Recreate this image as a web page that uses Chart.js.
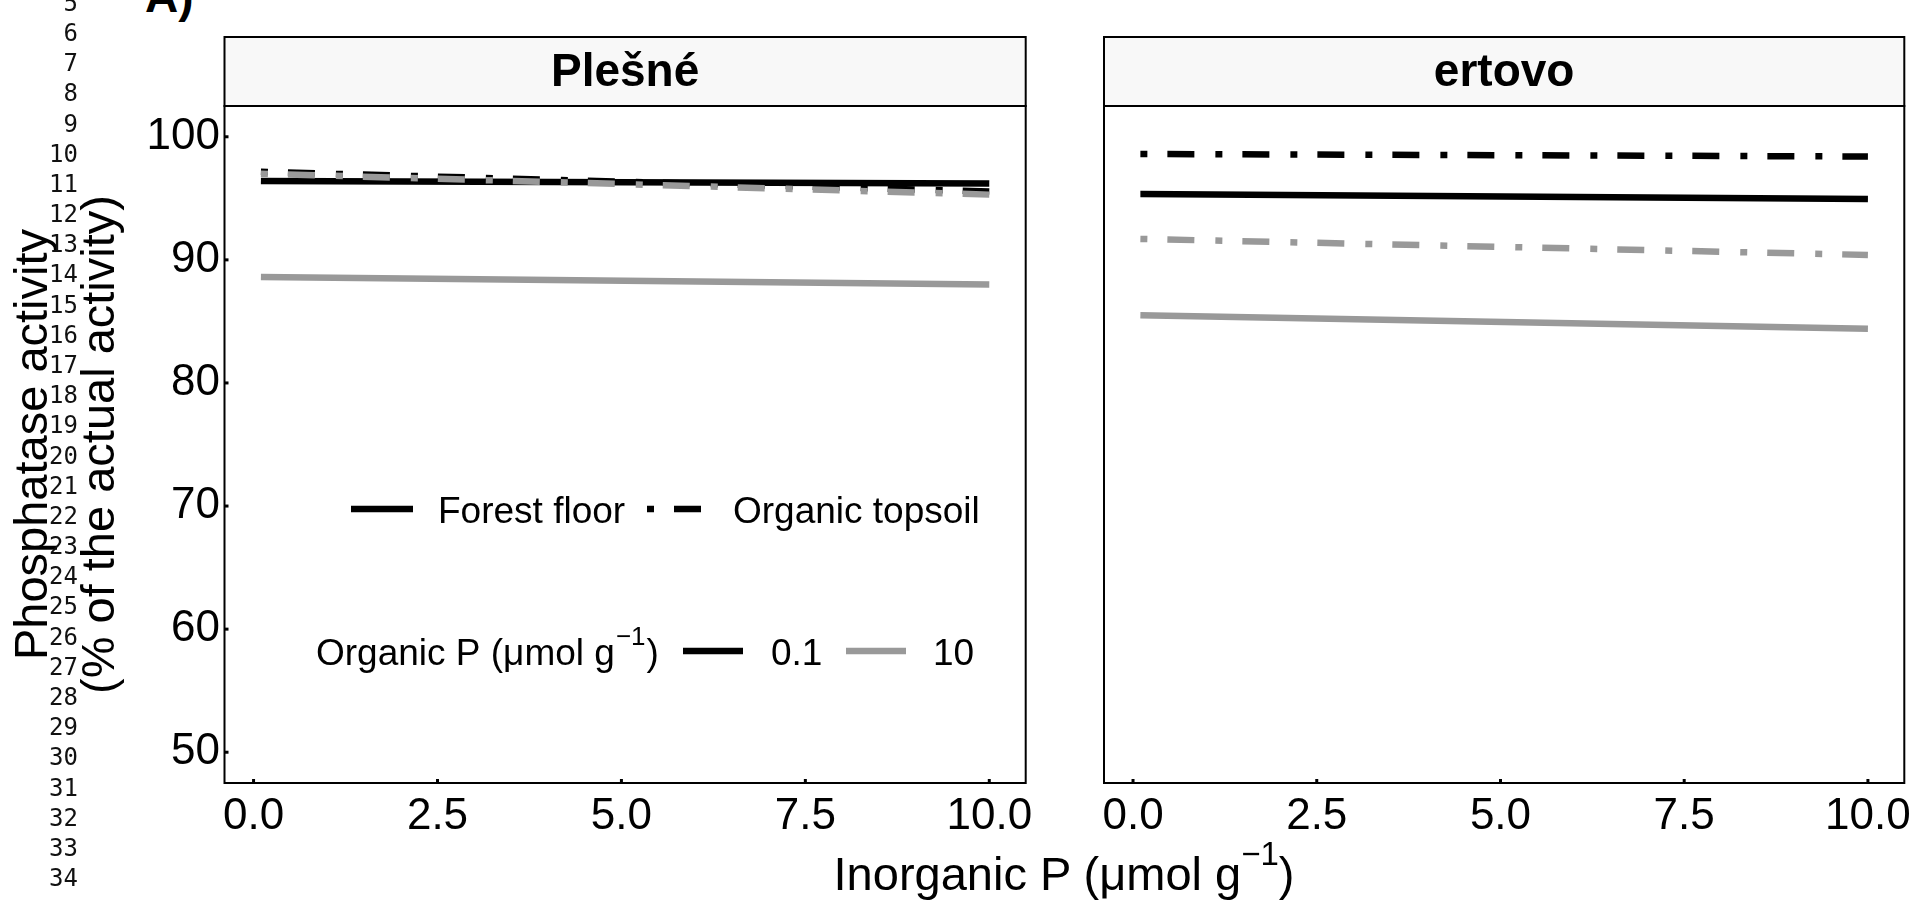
<!DOCTYPE html>
<html><head><meta charset="utf-8">
<script src="https://cdn.jsdelivr.net/npm/chart.js@4.4.1/dist/chart.umd.min.js"></script>
<style>
html,body{margin:0;padding:0;background:#fff;}
body{width:1920px;height:900px;position:relative;overflow:hidden;font-family:"Liberation Sans",Arial,sans-serif;}
canvas{position:absolute;top:0;}
#c1{left:0;}
#c2{left:1040px;}
.ln{position:absolute;left:0;width:78px;text-align:right;font-family:"DejaVu Sans Mono",monospace;font-size:24px;line-height:30px;color:#111;}
#tag{position:absolute;left:145px;top:-27px;font:bold 46px/46px "Liberation Sans",Arial,sans-serif;color:#000;}
#xtitle{position:absolute;left:224px;width:1680px;top:850px;text-align:center;font:47px/47px "Liberation Sans",Arial,sans-serif;color:#000;white-space:nowrap;}
#xtitle span{font-size:33px;vertical-align:25px;line-height:0;}
</style></head>
<body>
<div id="tag">A)</div>
<canvas id="c1" width="1040" height="900"></canvas>
<canvas id="c2" width="880" height="900"></canvas>
<div id="xtitle">Inorganic P (μmol g<span>−1</span>)</div>
<script>
// ---------------- data ----------------
const panels = ["Plešné", "ertovo"];
const xValues = [0.1, 10];
// Plešné
const plesne_forest_01 = [96.4, 96.2];
const plesne_forest_10 = [88.6, 88.0];
const plesne_topsoil_01 = [97.15, 95.55];
const plesne_topsoil_10 = [97.0, 95.3];
// ertovo
const certovo_forest_01 = [95.35, 94.95];
const certovo_forest_10 = [85.5, 84.4];
const certovo_topsoil_01 = [98.6, 98.4];
const certovo_topsoil_10 = [91.7, 90.4];

const xTicks = [0, 2.5, 5, 7.5, 10];
const xTickLabels = ["0.0", "2.5", "5.0", "7.5", "10.0"];
const yTicks = [50, 60, 70, 80, 90, 100];
const xLimits = [-0.395, 10.495];
const yLimits = [47.5, 102.5];
const lineNumbers = [5,6,7,8,9,10,11,12,13,14,15,16,17,18,19,20,21,22,23,24,25,26,27,28,29,30,31,32,33,34];

// ---------------- styles ----------------
const FONT = '"Liberation Sans", Arial, sans-serif';
const BLACK = '#000000', GREY = '#999999';
const SOLID = [], DOTDASH = [7, 20, 27, 21];
const LW = 6.5;

// line numbers
lineNumbers.forEach(n => {
  const d = document.createElement('div');
  d.className = 'ln';
  d.textContent = n;
  d.style.top = (33 + (n - 6) * 30.18 - 15) + 'px';
  document.body.appendChild(d);
});

function ds(values, color, dash, order) {
  return {
    data: xValues.map((x, i) => ({x: x, y: values[i]})),
    borderColor: color, borderWidth: LW, borderDash: dash, borderCapStyle: 'butt',
    pointRadius: 0, fill: false, tension: 0, order: order
  };
}
const panelData = [
  [ds(plesne_forest_10, GREY, SOLID, 0), ds(plesne_topsoil_10, GREY, DOTDASH, 0),
   ds(plesne_forest_01, BLACK, SOLID, 1), ds(plesne_topsoil_01, BLACK, DOTDASH, 1)],
  [ds(certovo_forest_10, GREY, SOLID, 0), ds(certovo_topsoil_10, GREY, DOTDASH, 0),
   ds(certovo_forest_01, BLACK, SOLID, 1), ds(certovo_topsoil_01, BLACK, DOTDASH, 1)]
];

function drawKey(ctx, x1, x2, y, color, dash) {
  ctx.save();
  ctx.strokeStyle = color; ctx.lineWidth = LW; ctx.lineCap = 'butt';
  ctx.setLineDash(dash);
  ctx.beginPath(); ctx.moveTo(x1, y); ctx.lineTo(x2, y); ctx.stroke();
  ctx.restore();
}

function drawLegend(ctx) {
  ctx.save();
  ctx.fillStyle = '#000';
  ctx.textAlign = 'left';
  ctx.textBaseline = 'alphabetic';
  ctx.font = '37px ' + FONT;
  // row 1: soil layer (linetype)
  drawKey(ctx, 351, 413, 509, BLACK, SOLID);
  ctx.fillText('Forest floor', 438, 523);
  drawKey(ctx, 647, 701, 509, BLACK, DOTDASH);
  ctx.fillText('Organic topsoil', 733, 523);
  // row 2: organic P (colour)
  const t1 = 'Organic P (μmol g';
  ctx.fillText(t1, 316, 665);
  let x = 316 + ctx.measureText(t1).width + 1;
  ctx.font = '26px ' + FONT;
  ctx.fillText('−1', x, 645);
  x += ctx.measureText('−1').width + 1;
  ctx.font = '37px ' + FONT;
  ctx.fillText(')', x, 665);
  drawKey(ctx, 683, 743, 651, BLACK, SOLID);
  ctx.fillText('0.1', 771, 665);
  drawKey(ctx, 846, 906, 651, GREY, SOLID);
  ctx.fillText('10', 933, 665);
  ctx.restore();
}

const panelDeco = {
  id: 'panelDeco',
  afterDraw(chart, args, opts) {
    const ctx = chart.ctx, a = chart.chartArea, sx = chart.scales.x, sy = chart.scales.y;
    const stripTop = 37;
    ctx.save();
    // strip
    ctx.fillStyle = '#F8F8F8';
    ctx.fillRect(a.left, stripTop, a.right - a.left, a.top - stripTop);
    ctx.strokeStyle = '#000'; ctx.lineWidth = 2;
    ctx.strokeRect(a.left, stripTop, a.right - a.left, a.top - stripTop);
    ctx.fillStyle = '#000';
    ctx.font = 'bold 46px ' + FONT;
    ctx.textAlign = 'center'; ctx.textBaseline = 'middle';
    ctx.fillText(opts.title, (a.left + a.right) / 2, (stripTop + a.top) / 2 + 2);
    // panel border
    ctx.strokeRect(a.left, a.top, a.right - a.left, a.bottom - a.top);
    // inward ticks
    ctx.lineWidth = 3;
    xTicks.forEach(v => {
      const px = sx.getPixelForValue(v);
      ctx.beginPath(); ctx.moveTo(px, a.bottom); ctx.lineTo(px, a.bottom - 4); ctx.stroke();
    });
    if (opts.yTicks) {
      yTicks.forEach(v => {
        const py = sy.getPixelForValue(v);
        ctx.beginPath(); ctx.moveTo(a.left, py); ctx.lineTo(a.left + 4, py); ctx.stroke();
      });
    }
    if (opts.legend) drawLegend(ctx);
    ctx.restore();
  }
};

function makeChart(id, idx, showY, padLeft, padRight) {
  return new Chart(document.getElementById(id), {
    type: 'line',
    data: { datasets: panelData[idx] },
    options: {
      responsive: false, animation: false, devicePixelRatio: 1, events: [],
      layout: { padding: { left: padLeft, right: padRight, top: 106, bottom: 0 } },
      plugins: {
        legend: { display: false }, tooltip: { enabled: false },
        panelDeco: { title: panels[idx], yTicks: showY, legend: idx === 0 }
      },
      scales: {
        x: {
          type: 'linear', min: xLimits[0], max: xLimits[1],
          grid: { display: false, drawTicks: false }, border: { display: false },
          afterBuildTicks: s => { s.ticks = xTicks.map(v => ({ value: v })); },
          afterFit: s => { s.height = 117; s.paddingLeft = 0; s.paddingRight = 0; },
          ticks: {
            font: { family: FONT, size: 44 }, color: '#000', padding: 7,
            maxRotation: 0, minRotation: 0, autoSkip: false,
            callback: v => xTickLabels[xTicks.indexOf(v)]
          }
        },
        y: {
          display: showY, type: 'linear', min: yLimits[0], max: yLimits[1],
          grid: { display: false, drawTicks: false }, border: { display: false },
          afterBuildTicks: s => { s.ticks = yTicks.map(v => ({ value: v })); },
          afterFit: s => { s.width = showY ? 224.5 : 0; s.paddingTop = 0; s.paddingBottom = 0; },
          ticks: { font: { family: FONT, size: 44 }, color: '#000', padding: 4.5, autoSkip: false },
          title: {
            display: showY, text: ['Phosphatase activity', '(% of the actual activity)'],
            color: '#000', font: { family: FONT, size: 47, lineHeight: 1.43 }, padding: 0
          }
        }
      }
    },
    plugins: [panelDeco]
  });
}

makeChart('c1', 0, true, 0, 14.3);
makeChart('c2', 1, false, 64, 15.7);
</script>
</body></html>
